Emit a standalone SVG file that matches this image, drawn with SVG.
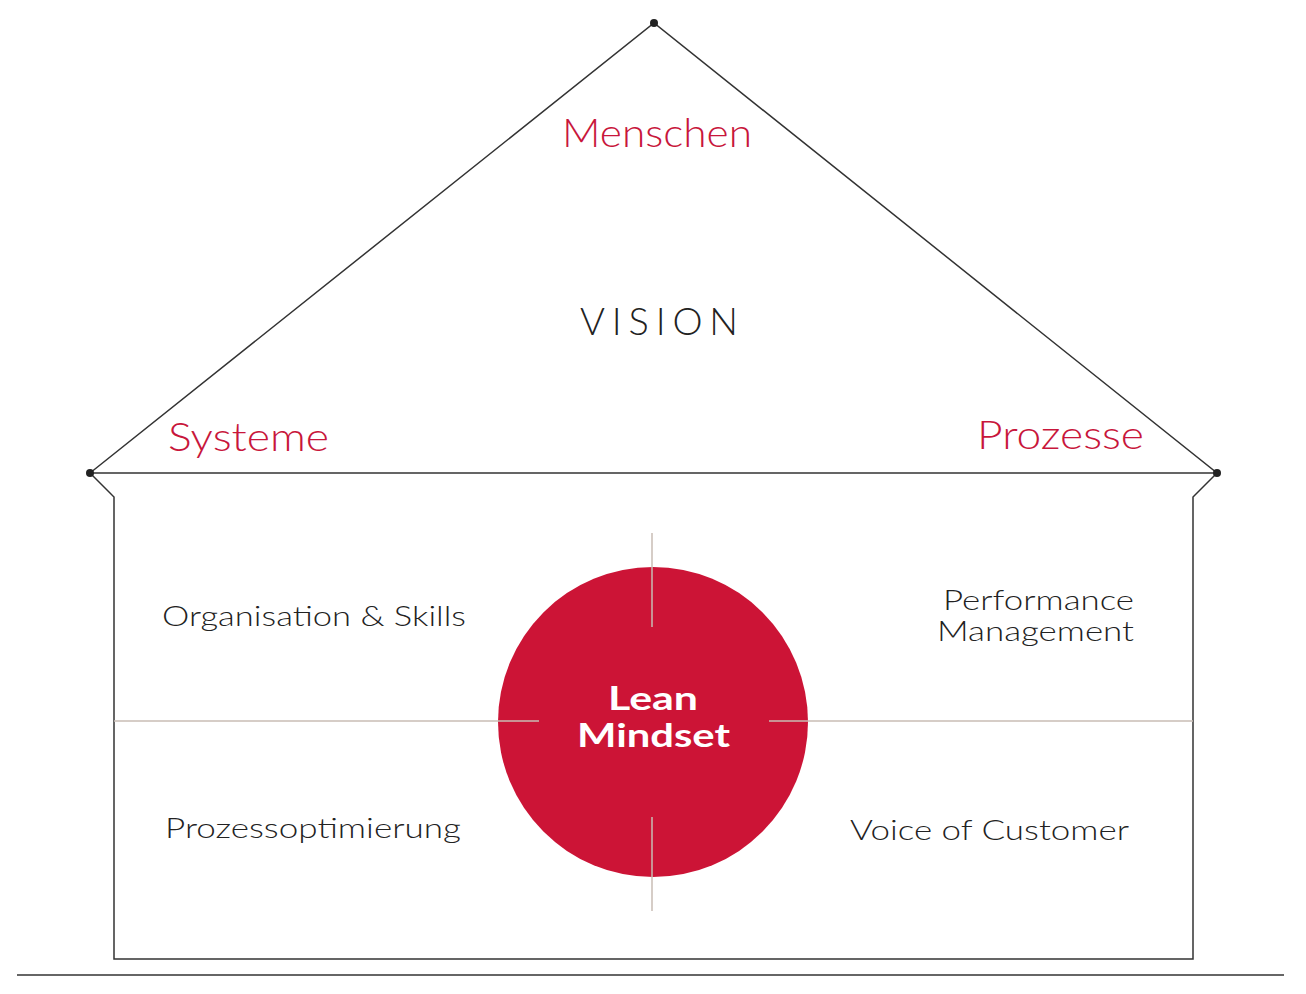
<svg xmlns="http://www.w3.org/2000/svg" width="1306" height="994" viewBox="0 0 1306 994">
<style>
.ln{fill:none;stroke:#333;stroke-width:1.5}
.cross{stroke:#c9bdb5;stroke-width:1.5}
.red{font-family:Lato,"Liberation Sans",sans-serif;font-size:40px;font-weight:300;fill:#c8163b}
.dark{font-family:Lato,"Liberation Sans",sans-serif;font-size:28px;font-weight:300;fill:#222}
.white{font-family:Lato,"Liberation Sans",sans-serif;font-size:32px;font-weight:bold;fill:#fff}
</style>
<rect width="1306" height="994" fill="#fff"/>
<g id="house">
<polyline class="ln" points="90,473 654,23 1217,473 90,473"/>
<polyline class="ln" points="90,473 114,497 114,959 1193,959 1193,497 1217,473"/>
<circle cx="654" cy="23" r="4" fill="#222"/>
<circle cx="90" cy="473" r="4" fill="#222"/>
<circle cx="1217" cy="473" r="4" fill="#222"/>
<line class="ln" x1="17" y1="975" x2="1284" y2="975"/>
</g>
<g id="roof-labels">
<text class="red" x="562" y="147" textLength="190" lengthAdjust="spacingAndGlyphs">Menschen</text>
<text class="red" x="168" y="451" textLength="161" lengthAdjust="spacingAndGlyphs">Systeme</text>
<text class="red" x="977" y="449" textLength="167" lengthAdjust="spacingAndGlyphs">Prozesse</text>
<text x="580" y="335" textLength="158" style="font-family:Lato,'Liberation Sans',sans-serif;font-size:38px;font-weight:300;fill:#222">VISION</text>
</g>
<g id="connectors">
<line class="cross" x1="114" y1="721" x2="539" y2="721"/>
<line class="cross" x1="769" y1="721" x2="1193" y2="721"/>
<line class="cross" x1="652" y1="533" x2="652" y2="627"/>
<line class="cross" x1="652" y1="817" x2="652" y2="911"/>
</g>
<g id="lean-mindset">
<circle cx="653" cy="722" r="155" fill="#cc1436"/>
<line class="cross" x1="498" y1="721" x2="539" y2="721"/>
<line class="cross" x1="769" y1="721" x2="808" y2="721"/>
<line class="cross" x1="652" y1="567" x2="652" y2="627"/>
<line class="cross" x1="652" y1="817" x2="652" y2="877"/>
<text class="white" x="608" y="710" textLength="90" lengthAdjust="spacingAndGlyphs">Lean</text>
<text class="white" x="577" y="747" textLength="153" lengthAdjust="spacingAndGlyphs">Mindset</text>
</g>
<g id="organisation"><text class="dark" x="162" y="626" textLength="304" lengthAdjust="spacingAndGlyphs">Organisation &amp; Skills</text></g>
<g id="performance"><text class="dark" x="943" y="610" textLength="191" lengthAdjust="spacingAndGlyphs">Performance</text><text class="dark" x="937" y="641" textLength="197" lengthAdjust="spacingAndGlyphs">Management</text></g>
<g id="prozessopt"><text class="dark" x="165" y="838" textLength="296" lengthAdjust="spacingAndGlyphs">Prozessoptimierung</text></g>
<g id="voc"><text class="dark" x="850" y="840" textLength="279" lengthAdjust="spacingAndGlyphs">Voice of Customer</text></g>
</svg>
